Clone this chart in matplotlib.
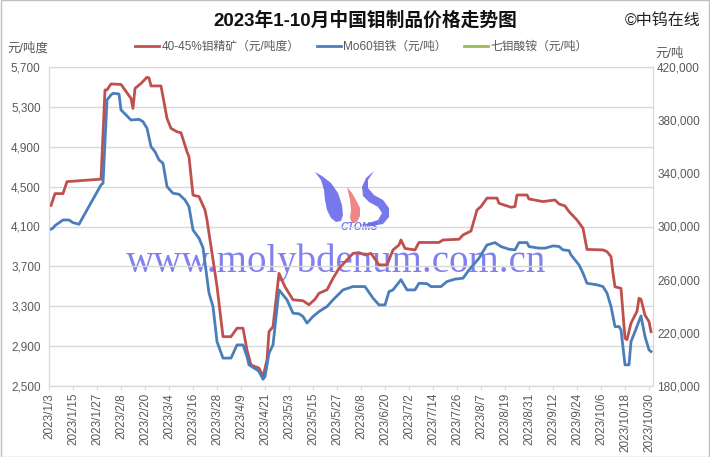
import numpy as np
import pandas as pd
import matplotlib
matplotlib.use("Agg")
import matplotlib.pyplot as plt
from matplotlib.lines import Line2D
from matplotlib.patches import Polygon
from matplotlib.transforms import Affine2D

plt.rcParams['font.family'] = ['Liberation Sans', 'Noto Sans CJK SC', 'DejaVu Sans']

# 40-45% 钼精矿 (元/吨度), left axis
conc_dates = ["1/3", "1/4", "1/6", "1/10", "1/12", "1/29", "1/31", "2/1", "2/3", "2/8",
              "2/13", "2/14", "2/15", "2/18", "2/21", "2/22", "2/23", "2/28", "3/3", "3/5",
              "3/8", "3/10", "3/13", "3/14", "3/16", "3/19", "3/22", "3/23", "3/25", "3/28",
              "3/31", "4/4", "4/7", "4/10", "4/12", "4/14", "4/18", "4/20", "4/22", "4/23",
              "4/25", "4/28", "5/1", "5/5", "5/10", "5/13", "5/16", "5/18", "5/22", "5/25",
              "5/28", "6/1", "6/4", "6/7", "6/10", "6/13", "6/17", "6/21", "6/24", "6/27",
              "6/28", "6/30", "7/5", "7/7", "7/17", "7/19", "7/27", "7/29", "8/2", "8/5",
              "8/7", "8/10", "8/15", "8/16", "8/22", "8/24", "8/25", "8/30", "8/31", "9/7",
              "9/13", "9/15", "9/18", "9/20", "9/24", "9/27", "9/29", "10/7", "10/9", "10/11",
              "10/12", "10/13", "10/16", "10/18", "10/19", "10/21", "10/24", "10/25", "10/26", "10/28",
              "10/30", "10/31"]
conc_price = [4310, 4310, 4430, 4430, 4550, 4575, 5470, 5470, 5530, 5525,
              5385, 5285, 5485, 5535, 5597, 5590, 5510, 5510, 5185, 5085,
              5050, 5040, 4850, 4800, 4415, 4400, 4266, 4165, 3900, 3500,
              2995, 2995, 3080, 3080, 2860, 2710, 2680, 2595, 2760, 3045,
              3095, 3630, 3495, 3365, 3355, 3315, 3370, 3430, 3465, 3580,
              3680, 3765, 3830, 3838, 3815, 3830, 3715, 3715, 3865, 3915,
              3965, 3880, 3865, 3940, 3940, 3965, 3972, 4015, 4055, 4266,
              4300, 4385, 4385, 4333, 4293, 4300, 4416, 4416, 4376, 4350,
              4366, 4326, 4306, 4250, 4165, 4082, 3870, 3865, 3848, 3798,
              3631, 3495, 3480, 2979, 2965, 3130, 3250, 3380, 3370, 3210,
              3146, 3045]

# Mo60 钼铁 (元/吨), right axis
feMo_dates = ["1/3", "1/5", "1/6", "1/10", "1/13", "1/15", "1/18", "1/29", "1/30", "2/1",
              "2/3", "2/4", "2/7", "2/8", "2/10", "2/13", "2/17", "2/19", "2/21", "2/23",
              "2/25", "2/27", "3/1", "3/3", "3/6", "3/9", "3/12", "3/14", "3/16", "3/19",
              "3/21", "3/24", "3/26", "3/28", "3/31", "4/4", "4/7", "4/10", "4/12", "4/13",
              "4/17", "4/18", "4/20", "4/21", "4/23", "4/25", "4/28", "5/2", "5/5", "5/8",
              "5/10", "5/12", "5/15", "5/18", "5/22", "5/25", "5/30", "6/4", "6/10", "6/14",
              "6/17", "6/20", "6/22", "6/24", "6/28", "7/1", "7/5", "7/7", "7/11", "7/13",
              "7/18", "7/21", "7/25", "7/29", "8/1", "8/6", "8/10", "8/14", "8/17", "8/21",
              "8/24", "8/26", "8/30", "8/31", "9/5", "9/8", "9/12", "9/15", "9/17", "9/20",
              "9/21", "9/25", "9/27", "9/29", "10/4", "10/7", "10/9", "10/11", "10/13", "10/15",
              "10/16", "10/18", "10/20", "10/21", "10/23", "10/26", "10/28", "10/30", "10/31"]
feMo_price = [297400, 298700, 300700, 304900, 304900, 302900, 301700, 331300, 332500, 395200,
              399000, 400200, 399700, 387700, 384700, 380100, 380600, 378900, 373900, 360100,
              356300, 350100, 347600, 330000, 325000, 324300, 320000, 314900, 297400, 291200,
              284000, 249900, 239800, 213400, 201000, 201000, 210900, 210900, 202200, 195900,
              192100, 190900, 185100, 187000, 204700, 210900, 252300, 244800, 234800, 234300,
              232300, 227300, 232300, 236000, 239800, 244800, 252300, 254800, 254800, 246100,
              241000, 241000, 251000, 252300, 260000, 252300, 252300, 257300, 257000, 254800,
              254800, 258600, 260400, 261100, 267300, 276100, 286100, 287900, 284900, 282900,
              282400, 287900, 287900, 284900, 283700, 283700, 285400, 285000, 282400, 281900,
              278600, 271100, 264900, 257300, 256100, 254800, 249900, 239800, 224700, 224700,
              222200, 195900, 195900, 213400, 220900, 232700, 217200, 207200, 205900]

# 七钼酸铵 (元/吨): in legend, no data drawn
amm_dates = []
amm_price = []

left_ticks = np.arange(2500, 5701, 400)
right_ticks = np.arange(180000, 420001, 40000)

to_dt = lambda ds: pd.to_datetime(["2023/" + d for d in ds], format="%Y/%m/%d")

red = "#C0504D"
blue = "#4A7EBB"
green = "#9BBB59"
gray = "#595959"
mark = "#6060EA"

fig = plt.figure(figsize=(7.1, 4.57), dpi=100)
ax = fig.add_axes([49 / 710, 1 - 386 / 457, 604 / 710, 319 / 457])
ax2 = ax.twinx()

ax.plot(to_dt(conc_dates), conc_price, color=red, lw=2.0, solid_joinstyle="round")
ax2.plot(to_dt(feMo_dates), feMo_price, color=blue, lw=2.0, solid_joinstyle="round")
if amm_dates:
    ax2.plot(to_dt(amm_dates), amm_price, color=green, lw=2.0)

ax.set_ylim(2500, 5700)
ax2.set_ylim(180000, 420000)
ax.set_yticks(left_ticks)
ax.set_yticklabels([f"{v:,}" for v in left_ticks])
ax2.set_yticks(right_ticks)
ax2.set_yticklabels([f"{v:,}" for v in right_ticks])

xticks = pd.date_range("2023-01-03", "2023-10-30", freq="12D")
ax.set_xlim(pd.Timestamp("2023-01-03"), pd.Timestamp("2023-11-01"))
ax.set_xticks(xticks)
ax.set_xticklabels([f"{d.year}/{d.month}/{d.day}" for d in xticks], rotation=90)

ax.grid(axis="y", color="#D9D9D9", lw=1.0)
ax.set_axisbelow(True)
for a in (ax, ax2):
    for s in a.spines.values():
        s.set_color("#D9D9D9")
    a.tick_params(colors=gray, labelsize=8.5, length=3)
ax.tick_params(axis="y", length=0, pad=6)
ax2.tick_params(axis="y", length=0, pad=3)
ax.tick_params(axis="x", color="#D9D9D9", pad=2)

# watermark text and logo
ax.text(0.475, 0.389, "www.molybdenum.com.cn", transform=ax.transAxes, ha="center", va="center",
        fontsize=28, family="Liberation Serif", color=mark, alpha=0.8, zorder=0)
ax.text(0.513, 0.498, "CTOMS", transform=ax.transAxes, ha="center", va="center",
        fontsize=7.5, style="italic", weight="bold", color=mark, alpha=0.85, zorder=0)

px = Affine2D().scale(1 / 710, -1 / 457).translate(0, 1) + fig.transFigure
logo = [
    ([(315, 172), (321, 180), (324, 190), (325, 200), (327, 210), (331, 218), (336, 222),
      (341, 221), (343, 215), (342, 205), (338, 193), (331, 183), (322, 176)], mark),
    ([(347, 187), (352, 193), (356, 200), (360, 208), (360, 216), (357, 222), (352, 223),
      (350, 218), (351, 210), (350, 200)], "#F07070"),
    ([(374, 171), (366, 178), (362, 187), (363, 196), (369, 202), (378, 207), (382, 213),
      (378, 220), (366, 224), (360, 225), (372, 226), (383, 224), (389, 217), (389, 208),
      (383, 200), (374, 195), (368, 188), (368, 180)], mark),
]
for pts, col in logo:
    fig.patches.append(Polygon(pts, closed=True, transform=px, facecolor=col,
                               edgecolor="none", alpha=0.85))

fig.text(0.515, 0.955, "2023年1-10月中国钼制品价格走势图", ha="center", va="center",
         fontsize=13.5, weight="bold", color="#111111")
fig.text(0.987, 0.955, "©中钨在线", ha="right", va="center", fontsize=11.5, color="#222222")
fig.text(0.011, 0.895, "元/吨度", ha="left", va="center", fontsize=9, color=gray)
fig.text(0.923, 0.882, "元/吨", ha="left", va="center", fontsize=9, color=gray)

handles = [Line2D([], [], color=red, lw=2), Line2D([], [], color=blue, lw=2),
           Line2D([], [], color=green, lw=2)]
labels = ["40-45%钼精矿（元/吨度）", "Mo60钼铁（元/吨）", "七钼酸铵（元/吨）"]
fig.legend(handles, labels, loc="center", bbox_to_anchor=(0.509, 0.897), ncol=3, frameon=False,
           fontsize=8.5, handlelength=2.0, handletextpad=0.2, columnspacing=1.5,
           labelcolor=gray)

fig.patches.append(plt.Rectangle((0.001, 0.001), 0.998, 0.998, transform=fig.transFigure,
                                 fill=False, edgecolor="#BFBFBF", lw=1))

fig.savefig("out.png", dpi=100)
